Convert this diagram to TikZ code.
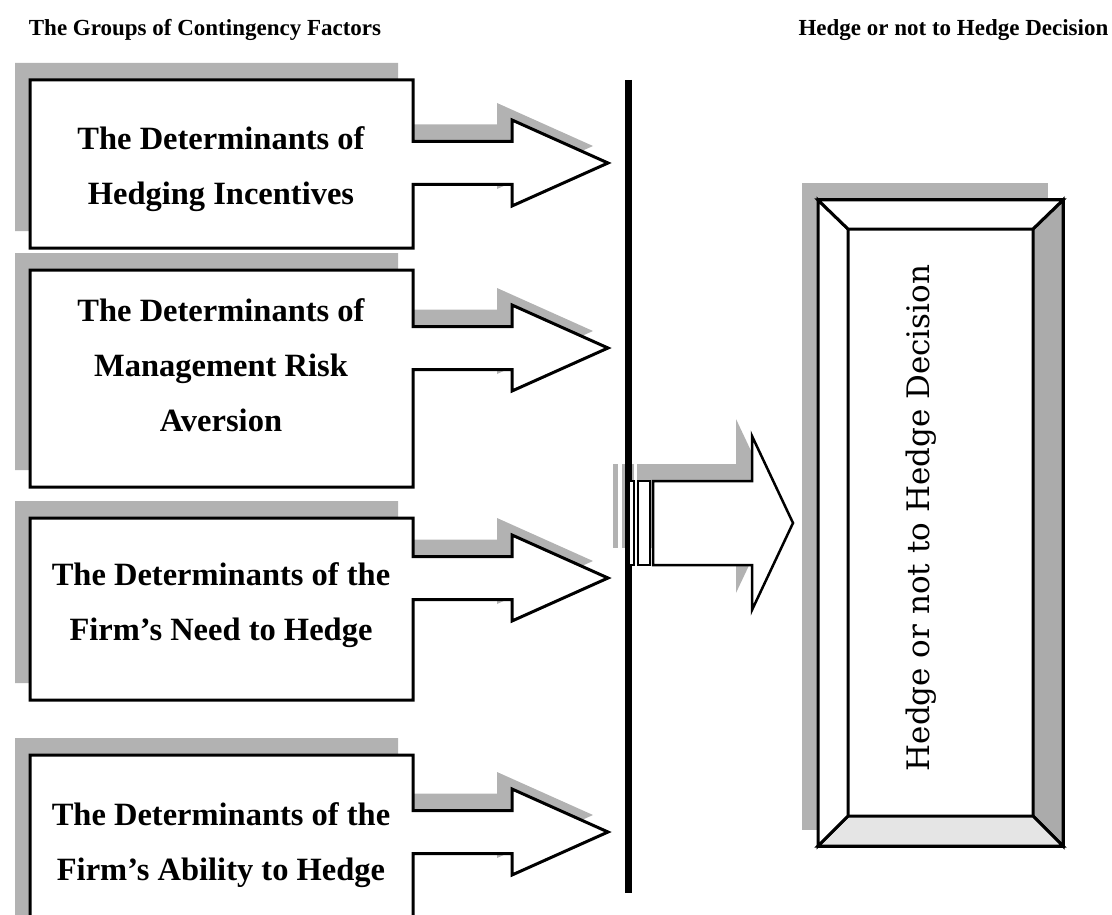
\documentclass[tikz,border=0pt]{standalone}
\usepackage{fontspec}
\setmainfont{Liberation Serif}
\newfontfamily\decisionfont{DejaVu Serif}

\tikzset{
  shadowgrey/.style={fill=black!30},
  outline/.style={draw=black, line width=3pt, fill=white, line join=miter},
  factortext/.style={align=center, font=\fontsize{32.5}{55}\selectfont\bfseries},
  heading/.style={font=\fontsize{23}{28}\selectfont\bfseries}
}

\begin{document}
\begin{tikzpicture}[x=1pt,y=-1pt]
  \useasboundingbox (0,0) rectangle (1112,915);

  % headings
  \node[heading] (groups) at (205,30) {The Groups of Contingency Factors};
  \node[heading, anchor=west] (decisionhead) at (795,30) {Hedge or not to Hedge Decision};

  % factor boxes with their arrows
  \foreach \ya/\yb/\ym/\yt/\nm/\txt in {
      80/248/163/169/incent/{The Determinants of\\Hedging Incentives},
      270/487/348/365/aversion/{The Determinants of\\Management Risk\\Aversion},
      518/700/578/605/need/{The Determinants of the\\Firm's Need to Hedge},
      755/960/832/845/ability/{The Determinants of the\\Firm's Ability to Hedge}} {
    \begin{scope}[shift={(-15,-17)}]
      \fill[shadowgrey] (30,\ya) -- (413,\ya) -- (413,\ym-21.5) -- (512,\ym-21.5)
        -- (512,\ym-43) -- (608,\ym) -- (512,\ym+43) -- (512,\ym+21.5)
        -- (413,\ym+21.5) -- (413,\yb) -- (30,\yb) -- cycle;
    \end{scope}
    \draw[outline] (30,\ya) -- (413,\ya) -- (413,\ym-21.5) -- (512,\ym-21.5)
      -- (512,\ym-43) -- (608,\ym) -- (512,\ym+43) -- (512,\ym+21.5)
      -- (413,\ym+21.5) -- (413,\yb) -- (30,\yb) -- cycle;
    \node[factortext] (\nm) at (221,\yt) {\txt};
  }

  % decision box shadow and centre arrow shadow
  \fill[shadowgrey] (802,183) rectangle (1048,830);
  \begin{scope}[shift={(-16,-17)}]
    \fill[shadowgrey] (629,481) rectangle (634,565);
    \fill[shadowgrey] (638,481) rectangle (650,565);
    \fill[shadowgrey] (653,481) -- (752,481) -- (752,436) -- (793,523)
      -- (752,610) -- (752,565) -- (653,565) -- cycle;
  \end{scope}

  % collecting bar
  \draw[line width=7pt] (628,80) coordinate (bartop) -- (628,893) coordinate (barbot);

  % centre arrow
  \draw[outline, line width=1.5pt] (629,481) rectangle (634,565);
  \draw[outline, line width=2pt] (638,481) rectangle (650,565);
  \draw[outline, line width=2.5pt] (653,481) -- (752,481) -- (752,436) -- (793,523)
    -- (752,610) -- (752,565) -- (653,565) -- cycle;

  % decision box
  \draw[outline] (818,200) rectangle (1063,846);
  \draw[outline, fill=black!33] (1063,200) -- (1033,229) -- (1033,816) -- (1063,846) -- cycle;
  \draw[outline, fill=black!10] (818,846) -- (848,816) -- (1033,816) -- (1063,846) -- cycle;
  \draw[outline] (818,200) -- (848,229) -- (848,816) -- (818,846) -- cycle;
  \draw[outline] (818,200) -- (1063,200) -- (1033,229) -- (848,229) -- cycle;
  \node[rotate=90, font=\decisionfont\fontsize{31}{35}\selectfont] (decision) at (921,518)
    {Hedge or not to Hedge Decision};
\end{tikzpicture}
\end{document}
